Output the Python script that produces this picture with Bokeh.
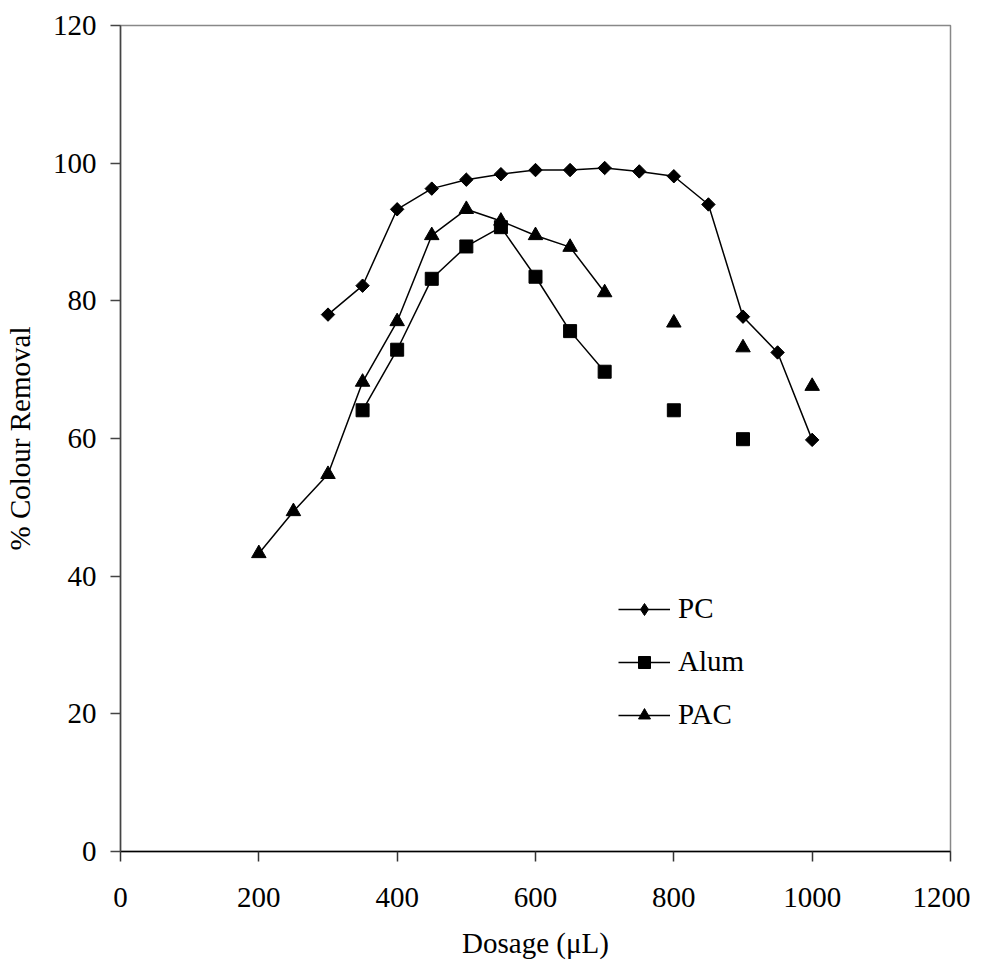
from bokeh.plotting import figure
from bokeh.models import Range1d, FixedTicker, Legend, LegendItem
from bokeh.embed import file_html
from bokeh.resources import INLINE
import math

# ---- data ----
pc_x = [300, 350, 400, 450, 500, 550, 600, 650, 700, 750, 800, 850, 900, 950, 1000]
pc_y = [78.0, 82.2, 93.3, 96.3, 97.6, 98.4, 99.0, 99.0, 99.3, 98.8, 98.1, 94.0, 77.7, 72.5, 59.8]

alum_x = [350, 400, 450, 500, 550, 600, 650, 700, 800, 900]
alum_y = [64.1, 72.9, 83.2, 87.9, 90.7, 83.5, 75.6, 69.7, 64.1, 59.9]
alum_connected = 8  # first points joined by a line

pac_x = [200, 250, 300, 350, 400, 450, 500, 550, 600, 650, 700, 800, 900, 1000]
pac_y = [43.3, 49.4, 54.8, 68.2, 77.0, 89.5, 93.3, 91.6, 89.5, 87.8, 81.2, 76.8, 73.2, 67.6]
pac_connected = 11

x_ticks = [0, 200, 400, 600, 800, 1000, 1200]
y_ticks = [0, 20, 40, 60, 80, 100, 120]

FONT = "Liberation Serif"
FS = "29px"

p = figure(width=970, height=962, output_backend="svg", toolbar_location=None,
           x_range=Range1d(0, 1200), y_range=Range1d(0, 120),
           min_border_left=120, min_border_right=20, min_border_top=25, min_border_bottom=111)
p.background_fill_color = "white"
p.border_fill_color = "white"
p.outline_line_color = "#888888"
p.outline_line_width = 1.5
p.grid.visible = False

for ax in (p.xaxis[0], p.yaxis[0]):
    ax.major_label_text_font = FONT
    ax.major_label_text_font_size = FS
    ax.major_label_text_color = "black"
    ax.axis_label_text_font = FONT
    ax.axis_label_text_font_size = FS
    ax.axis_label_text_font_style = "normal"
    ax.axis_label_text_color = "black"
    ax.minor_tick_line_color = None
    ax.major_tick_in = 0
    ax.major_tick_out = 10
    ax.axis_line_width = 1.5
    ax.major_tick_line_width = 1.5

p.xaxis.ticker = FixedTicker(ticks=x_ticks)
p.yaxis.ticker = FixedTicker(ticks=y_ticks)
p.xaxis.axis_label = "Dosage (\u03bcL)"
p.yaxis.axis_label = "% Colour Removal"
p.xaxis.axis_line_color = "black"
p.xaxis.major_tick_line_color = "#333333"
p.yaxis.axis_line_color = "#444444"
p.yaxis.major_tick_line_color = "#444444"
p.xaxis.major_label_standoff = 26
p.xaxis.axis_label_standoff = 17
p.yaxis.major_label_standoff = 14
p.yaxis.axis_label_standoff = 14

LW = 1.5

pc_line = p.line(pc_x, pc_y, line_color="black", line_width=LW)
# narrow diamonds (used by the legend key), covered by the rotated squares below
pc_key = p.scatter(pc_x, pc_y, marker="diamond", size=12,
                   fill_color="black", line_color="black")
pc_pts = p.scatter(pc_x, pc_y, marker="square", angle=math.pi / 4, size=9.5,
                   fill_color="black", line_color="black")

alum_line = p.line(alum_x[:alum_connected], alum_y[:alum_connected], line_color="black", line_width=LW)
alum_pts = p.scatter(alum_x, alum_y, marker="square", size=13,
                     fill_color="black", line_color="black")

pac_line = p.line(pac_x[:pac_connected], pac_y[:pac_connected], line_color="black", line_width=LW)
pac_pts = p.scatter(pac_x, pac_y, marker="triangle", size=14.5,
                    fill_color="black", line_color="black")

legend = Legend(items=[
    LegendItem(label="PC", renderers=[pc_line, pc_key]),
    LegendItem(label="Alum", renderers=[alum_line, alum_pts]),
    LegendItem(label="PAC", renderers=[pac_line, pac_pts]),
], location=(498, 120), orientation="vertical")
legend.background_fill_alpha = 0
legend.border_line_color = None
legend.padding = 0
legend.margin = 0
legend.glyph_width = 52
legend.glyph_height = 30
legend.label_height = 30
legend.spacing = 20
legend.label_standoff = 8
legend.label_text_font = FONT
legend.label_text_font_size = FS
legend.label_text_color = "black"
p.add_layout(legend, "center")

open("out.html", "w").write(file_html(p, INLINE))
